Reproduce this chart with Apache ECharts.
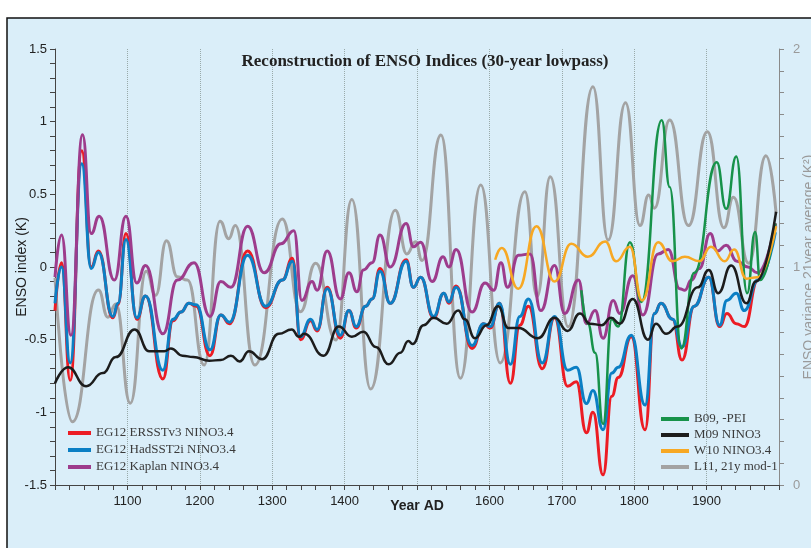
<!DOCTYPE html>
<html>
<head>
<meta charset="utf-8">
<script src="https://cdn.jsdelivr.net/npm/echarts@6/dist/echarts.min.js"></script>
<style>html,body{margin:0;padding:0;background:#fff}#c{width:811px;height:548px}</style>
</head>
<body>
<div id="c"></div>
<script>
// ---- data (years AD / values) ----
const ersstYears = [1000,1009,1021,1037,1050,1060,1080,1087,1098,1113,1125,1149,1163,1174,1185,1195,1214,1229,1241,1266,1291,1314,1328,1339,1353,1362,1376,1394,1406,1416,1429,1438,1449,1463,1485,1495,1505,1523,1537,1544,1554,1576,1592,1601,1614,1629,1642,1654,1673,1690,1708,1720,1734,1743,1757,1769,1778,1796,1815,1828,1837,1853,1866,1883,1903,1918,1928,1941,1952,1971,1995];
const ersstValues = [-0.30,0.03,-0.78,0.80,0.00,0.11,-0.35,-0.26,0.23,-0.36,-0.20,-0.77,-0.37,-0.31,-0.25,-0.27,-0.61,-0.33,-0.39,0.11,-0.28,-0.09,0.06,-0.50,-0.37,-0.44,-0.14,-0.49,-0.30,-0.42,-0.27,-0.22,-0.01,-0.25,0.05,-0.14,-0.07,-0.35,-0.18,-0.25,-0.13,-0.56,-0.39,-0.42,-0.25,-0.80,-0.40,-0.27,-0.70,-0.35,-0.82,-0.79,-1.14,-1.00,-1.43,-0.89,-0.76,-0.48,-1.12,-0.32,-0.25,-0.36,-0.64,-0.27,-0.07,-0.41,-0.32,-0.39,-0.41,-0.09,0.30];

const hadsstYears = ersstYears;
const hadsstValues = [-0.25,0.00,-0.66,0.71,-0.01,0.10,-0.34,-0.25,0.19,-0.35,-0.20,-0.71,-0.36,-0.31,-0.25,-0.26,-0.57,-0.33,-0.38,0.08,-0.27,-0.09,0.04,-0.48,-0.36,-0.43,-0.15,-0.47,-0.30,-0.41,-0.27,-0.22,-0.03,-0.25,0.04,-0.14,-0.07,-0.34,-0.18,-0.24,-0.14,-0.54,-0.39,-0.41,-0.25,-0.67,-0.34,-0.22,-0.66,-0.34,-0.71,-0.69,-0.94,-0.85,-1.12,-0.73,-0.69,-0.47,-0.95,-0.32,-0.25,-0.36,-0.55,-0.27,-0.07,-0.40,-0.23,-0.18,-0.30,-0.09,0.24];

const kaplanYears = [1000,1009,1022,1038,1050,1061,1082,1098,1113,1125,1149,1169,1192,1214,1229,1243,1266,1289,1312,1330,1341,1355,1362,1376,1394,1406,1417,1426,1438,1449,1463,1485,1495,1505,1521,1536,1544,1554,1576,1594,1606,1616,1625,1640,1656,1671,1690,1704,1723,1734,1746,1757,1771,1780,1798,1812,1833,1847,1863,1870,1879,1890,1905,1915,1927,1942,1957,1970,1995];
const kaplanValues = [-0.07,0.22,-0.47,0.91,0.23,0.35,-0.09,0.35,-0.11,0.01,-0.46,-0.09,0.03,-0.34,-0.10,-0.14,0.28,-0.04,0.16,0.25,-0.23,-0.10,-0.16,0.11,-0.22,-0.04,-0.17,-0.02,0.03,0.22,0.00,0.30,0.14,0.17,-0.10,0.07,0.00,0.12,-0.31,-0.11,-0.16,0.03,-0.14,0.08,0.09,-0.30,0.01,-0.32,-0.09,-0.39,-0.30,-0.49,-0.23,-0.32,-0.06,-0.33,0.09,0.12,-0.15,-0.16,-0.09,-0.01,0.23,0.11,0.15,0.04,0.00,-0.04,0.30];

const b09Years = [1727,1736,1746,1757,1769,1778,1794,1810,1838,1849,1865,1883,1914,1927,1941,1956,1967,1974,1995];
const b09Values = [-0.16,-0.39,-0.59,-1.08,-0.36,-0.41,0.17,-0.24,1.01,0.55,-0.56,-0.04,0.72,0.40,0.76,-0.18,0.24,-0.09,0.30];

const m09Years = [1000,1018,1043,1066,1084,1110,1130,1151,1160,1176,1191,1213,1229,1243,1255,1268,1286,1309,1327,1337,1344,1371,1392,1410,1426,1443,1461,1477,1488,1494,1509,1523,1541,1557,1566,1580,1596,1612,1626,1640,1667,1690,1708,1725,1739,1755,1768,1780,1798,1819,1830,1844,1860,1888,1903,1916,1934,1955,1968,1996];
const m09Values = [-0.80,-0.69,-0.82,-0.73,-0.62,-0.43,-0.58,-0.58,-0.56,-0.61,-0.62,-0.645,-0.64,-0.61,-0.65,-0.58,-0.635,-0.46,-0.43,-0.48,-0.46,-0.61,-0.41,-0.48,-0.445,-0.55,-0.67,-0.59,-0.51,-0.53,-0.40,-0.35,-0.39,-0.30,-0.36,-0.49,-0.40,-0.27,-0.42,-0.42,-0.49,-0.35,-0.44,-0.32,-0.39,-0.40,-0.35,-0.39,-0.22,-0.50,-0.39,-0.46,-0.41,-0.14,-0.02,-0.18,0.01,-0.25,-0.10,0.38];

const w10Years = [1608,1617,1640,1665,1690,1713,1736,1760,1775,1794,1811,1833,1853,1870,1890,1906,1925,1938,1955,1970,1996];
const w10Values = [0.05,0.13,-0.15,0.28,-0.10,0.16,0.07,0.175,0.04,0.14,-0.23,0.17,0.04,0.07,0.04,0.14,0.04,0.12,-0.08,-0.07,0.28];

// L11 variance (right axis, K^2)
const l11Years = [1000,1024,1060,1073,1084,1104,1126,1139,1154,1169,1183,1206,1228,1240,1249,1276,1314,1339,1360,1388,1410,1436,1470,1486,1498,1507,1533,1560,1588,1615,1649,1666,1684,1709,1743,1764,1788,1808,1820,1828,1849,1875,1901,1924,1937,1958,1982,1996];
const l11Values = [0.95,0.29,0.894,0.77,0.83,0.375,0.98,0.87,1.12,0.955,0.94,0.55,1.21,1.13,1.19,0.55,1.22,0.795,1.017,0.665,1.31,0.44,1.26,1.06,1.116,1.03,1.605,0.49,1.376,0.56,1.345,0.864,1.414,0.726,1.827,1.124,1.754,1.19,1.33,1.27,1.674,1.19,1.62,1.18,1.32,1.017,1.51,1.246];

const seriesNames = ['EG12 ERSSTv3 NINO3.4','EG12 HadSST2i NINO3.4','EG12 Kaplan NINO3.4','B09, -PEI','M09 NINO3','W10 NINO3.4','L11, 21y mod-1'];
const seriesColors = ['#ec1c24','#0b7fc4','#9d3c8c','#17924a','#1c1c1c','#f7a823','#a3a3a3'];

const chartTitle = 'Reconstruction of ENSO Indices (30-year lowpass)';
const yNameLeft = 'ENSO index (K)';
const yNameRight = 'ENSO variance 21year average (K\u00B2)';
const xName = 'Year AD';

function zip(xs, ys){ return xs.map((x,i)=>[x, ys[i]]); }

const chart = echarts.init(document.getElementById('c'), null, {renderer:'canvas'});
const narrow = '"Liberation Sans Narrow","Liberation Sans",Arial,sans-serif';
const serif = '"Liberation Serif","Times New Roman",serif';

function mk(i, xs, ys, yIdx, w, z){
  return {
    name: seriesNames[i], type:'line', xAxisIndex:0, yAxisIndex:yIdx,
    data: zip(xs, ys), showSymbol:false, symbol:'none', smooth:0.5, smoothMonotone:'x',
    lineStyle:{color:seriesColors[i], width:w}, itemStyle:{color:seriesColors[i]}, z:z
  };
}

chart.setOption({
  animation:false,
  backgroundColor:'#ffffff',
  graphic:[
    {type:'rect', z:-100, silent:true, shape:{x:7,y:18,width:900,height:600},
     style:{fill:'#daeef9', stroke:'#111', lineWidth:1.5}}
  ],
  title:{text:chartTitle, left:420, top:48, textAlign:'center',
    textStyle:{fontFamily:serif, fontWeight:'bold', fontSize:17, color:'#222'}},
  grid:{left:55, right:32, top:49, bottom:63, containLabel:false, outerBoundsMode:'none'},
  legend:[
    {orient:'vertical', left:63, top:421, itemWidth:23, itemHeight:4, itemGap:3, icon:'rect',
     data:seriesNames.slice(0,3),
     textStyle:{fontFamily:serif, fontSize:13, color:'#3a3a3a', lineHeight:14}},
    {orient:'vertical', left:656, top:407, itemWidth:28, itemHeight:4, itemGap:2, icon:'rect',
     data:seriesNames.slice(3),
     textStyle:{fontFamily:serif, fontSize:13, color:'#3a3a3a', lineHeight:14}}
  ],
  xAxis:{type:'value', min:1000, max:2000, interval:100,
    axisLine:{show:true, onZero:false, lineStyle:{color:'#444', width:1}},
    axisTick:{show:true, length:5, lineStyle:{color:'#444'}},
    minorTick:{show:true, splitNumber:5, length:5, lineStyle:{color:'#444'}},
    splitLine:{show:true, lineStyle:{color:'#9aa', type:'dotted', width:1}},
    axisLabel:{margin:10, fontFamily:narrow, fontSize:13, color:'#222',
      formatter:function(v){ if(v===1000||v===2000) return ''; if(v===1500) return '{b|'+xName+'}'; return String(v); },
      rich:{b:{fontFamily:'"Liberation Sans",Arial,sans-serif', fontWeight:'bold', fontSize:14, color:'#222', padding:[4,0,0,0]}}}
  },
  yAxis:[
    {type:'value', min:-1.5, max:1.5, interval:0.5, position:'left',
     name:yNameLeft, nameLocation:'middle', nameGap:26, nameRotate:90, nameMoveOverlap:false,
     nameTextStyle:{fontFamily:'"Liberation Sans",Arial,sans-serif', fontSize:14, color:'#222'},
     axisLine:{show:true, onZero:false, lineStyle:{color:'#444'}},
     axisTick:{show:true, length:5, lineStyle:{color:'#444'}},
     minorTick:{show:true, splitNumber:5, length:5, lineStyle:{color:'#444'}},
     splitLine:{show:false},
     axisLabel:{margin:8, fontFamily:narrow, fontSize:13, color:'#222'}},
    {type:'value', min:0, max:2, interval:1, position:'right',
     name:yNameRight, nameLocation:'middle', nameGap:23, nameRotate:90, nameMoveOverlap:false,
     nameTextStyle:{fontFamily:'"Liberation Sans",Arial,sans-serif', fontSize:14, color:'#9a9a9a'},
     axisLine:{show:true, onZero:false, lineStyle:{color:'#8a8a8a'}},
     axisTick:{show:true, length:5, lineStyle:{color:'#8a8a8a'}},
     minorTick:{show:true, splitNumber:10, length:5, lineStyle:{color:'#8a8a8a'}},
     splitLine:{show:false},
     axisLabel:{margin:14, fontFamily:narrow, fontSize:13, color:'#9a9a9a'}}
  ],
  series:[
    mk(6, l11Years, l11Values, 1, 3, 2),
    mk(0, ersstYears, ersstValues, 0, 3, 3),
    mk(1, hadsstYears, hadsstValues, 0, 3, 4),
    mk(2, kaplanYears, kaplanValues, 0, 3, 5),
    mk(3, b09Years, b09Values, 0, 2.5, 6),
    mk(5, w10Years, w10Values, 0, 2.5, 7),
    mk(4, m09Years, m09Values, 0, 2.5, 8)
  ]
});
</script>
</body>
</html>
